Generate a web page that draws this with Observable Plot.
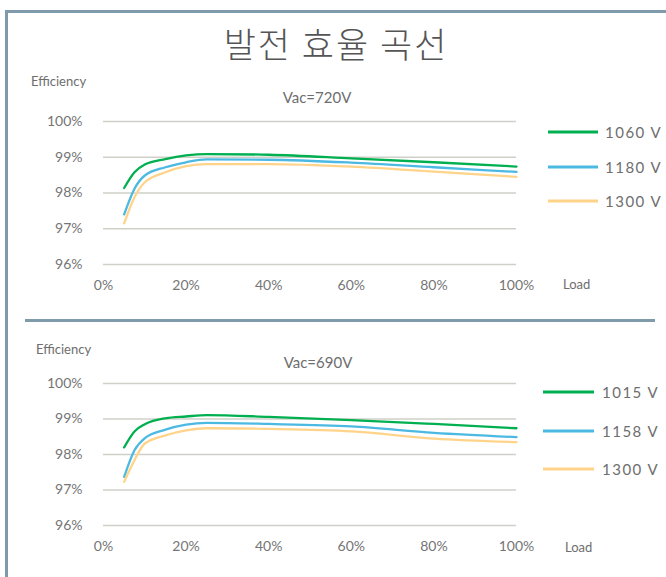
<!DOCTYPE html>
<html><head><meta charset="utf-8">
<script src="https://cdn.jsdelivr.net/npm/d3@7"></script>
<script src="https://cdn.jsdelivr.net/npm/@observablehq/plot@0.6"></script>
<style>
html,body{margin:0;padding:0;background:#fff;}
#root{position:relative;width:666px;height:577px;overflow:hidden;background:#fff;font-family:Lato,"Open Sans",sans-serif;color:#666;}
.abs{position:absolute;white-space:nowrap;}
.chart{position:absolute;left:0;}
.lbl{font-size:13px;color:#6e6e6e;transform:translateY(-50%);}
.sub{font-size:15px;color:#6e6e6e;transform:translate(-50%,-50%);}
.leg{font-size:15px;color:#6e6e6e;letter-spacing:1.5px;transform:translateY(-50%);}
.legline{position:absolute;height:3px;transform:translateY(-50%);}
</style>
</head><body>
<div id="root">
  <div class="abs" style="left:5px;top:10px;width:3px;height:567px;background:#7f9aaa"></div>
  <div class="abs" style="left:5px;top:10px;width:661px;height:3px;background:#7f9aaa"></div>
  <div class="abs" style="left:25px;top:319px;width:630px;height:3px;background:#7f9aaa"></div>
  <div class="abs" style="left:336px;top:42px;transform:translate(-50%,-50%);font-family:'Noto Sans CJK KR';font-weight:300;font-size:35px;color:#555;letter-spacing:2px">발전 효율 곡선</div>
  <div id="c1" class="chart" style="top:0"></div>
  <div id="c2" class="chart" style="top:300px"></div>
</div>
<script>
const loads = [5, 7.5, 10, 15, 20, 25, 40, 60, 80, 100];
const xTicks = [0, 20, 40, 60, 80, 100];
const yTicks = [96, 97, 98, 99, 100];
const colors = ["#00b050", "#4bb9e2", "#ffd48a"];

const series720 = ["1060 V", "1180 V", "1300 V"];
const eff720_1060 = [98.14, 98.58, 98.80, 98.95, 99.05, 99.09, 99.07, 98.97, 98.86, 98.74];
const eff720_1180 = [97.40, 98.12, 98.49, 98.72, 98.86, 98.94, 98.93, 98.85, 98.72, 98.59];
const eff720_1300 = [97.15, 97.88, 98.30, 98.58, 98.75, 98.81, 98.81, 98.74, 98.60, 98.45];

const series690 = ["1015 V", "1158 V", "1300 V"];
const eff690_1015 = [98.20, 98.65, 98.85, 99.02, 99.07, 99.11, 99.06, 98.97, 98.86, 98.74];
const eff690_1158 = [97.37, 98.12, 98.46, 98.70, 98.84, 98.89, 98.86, 98.79, 98.61, 98.49];
const eff690_1300 = [97.23, 97.84, 98.31, 98.54, 98.68, 98.74, 98.72, 98.65, 98.45, 98.35];

function rows(names, arrays) {
  return names.flatMap((s, i) => loads.map((l, j) => ({series: s, load: l, eff: arrays[i][j]})));
}

function chart(data, names, opts) {
  return Plot.plot({
    width: 666, height: opts.height,
    marginLeft: 103, marginRight: 150, marginTop: opts.mt, marginBottom: opts.mb,
    style: {fontFamily: "Lato, 'Open Sans', sans-serif", fontSize: "14px", color: "#707070", background: "transparent", overflow: "visible"},
    x: {domain: [0, 100]},
    y: {domain: [96, 100]},
    color: {domain: names, range: colors},
    marks: [
      Plot.ruleY(yTicks, {stroke: "#d0d0c8", strokeWidth: 1.5}),
      Plot.axisX(xTicks, {tickSize: 0, tickPadding: 16, label: null, tickFormat: d => d + "%", fill: "#757575", letterSpacing: "1.5px"}),
      Plot.axisY(yTicks, {tickSize: 0, tickPadding: 21, label: null, tickFormat: d => d + "%", fill: "#757575", letterSpacing: "1.5px"}),
      Plot.line(data, {x: "load", y: "eff", stroke: "series", z: "series", strokeWidth: 2.3, curve: "monotone-x"})
    ]
  });
}

document.getElementById("c1").append(chart(rows(series720, [eff720_1060, eff720_1180, eff720_1300]), series720, {height: 300, mt: 121, mb: 36}));
document.getElementById("c2").append(chart(rows(series690, [eff690_1015, eff690_1158, eff690_1300]), series690, {height: 277, mt: 83, mb: 52}));

const root = document.getElementById("root");
function addText(cls, text, x, y) {
  const d = document.createElement("div");
  d.className = "abs " + cls; d.textContent = text;
  d.style.left = x + "px"; d.style.top = y + "px";
  root.append(d);
}
addText("lbl", "Efficiency", 31, 81);
addText("lbl", "Efficiency", 36, 349);
addText("lbl", "Load", 563, 284);
addText("lbl", "Load", 565, 547);
addText("sub", "Vac=720V", 317, 97);
addText("sub", "Vac=690V", 318, 362);

function legend(names, x0, x1, tx, ys) {
  names.forEach((n, i) => {
    const l = document.createElement("div");
    l.className = "legline";
    l.style.left = x0 + "px"; l.style.width = (x1 - x0) + "px"; l.style.top = ys[i] + "px";
    l.style.background = colors[i];
    root.append(l);
    addText("leg", n, tx, ys[i]);
  });
}
legend(series720, 548, 598, 605, [132, 167, 201]);
legend(series690, 543, 594, 602, [392, 431, 469]);
</script>
</body></html>
